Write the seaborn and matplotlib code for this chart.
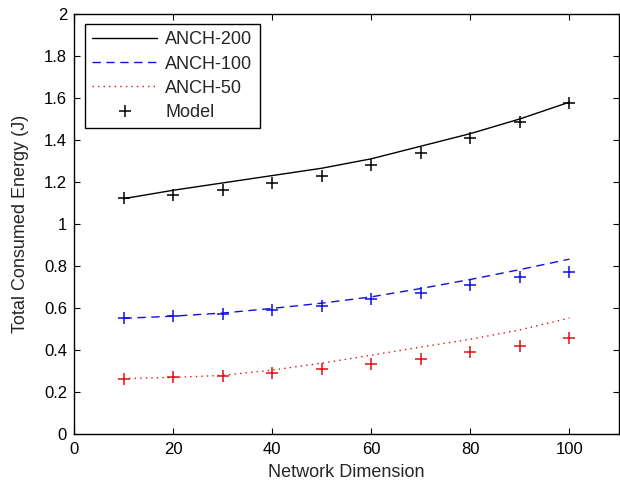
import matplotlib
matplotlib.use("Agg")
import matplotlib.pyplot as plt
import seaborn as sns
import pandas as pd
from matplotlib.lines import Line2D

# ---- data ----
dimension = [10, 20, 30, 40, 50, 60, 70, 80, 90, 100]
anch_200 = [1.12, 1.16, 1.195, 1.23, 1.265, 1.31, 1.37, 1.43, 1.50, 1.58]
anch_100 = [0.55, 0.56, 0.575, 0.597, 0.622, 0.652, 0.692, 0.735, 0.782, 0.832]
anch_50 = [0.263, 0.268, 0.278, 0.303, 0.336, 0.374, 0.413, 0.45, 0.495, 0.551]
model_200 = [1.122, 1.138, 1.162, 1.194, 1.23, 1.281, 1.34, 1.408, 1.487, 1.575]
model_100 = [0.551, 0.559, 0.571, 0.59, 0.608, 0.64, 0.672, 0.71, 0.748, 0.772]
model_50 = [0.263, 0.268, 0.277, 0.29, 0.31, 0.33, 0.355, 0.387, 0.419, 0.456]

series_names = ["ANCH-200", "ANCH-100", "ANCH-50"]
x_ticks = [0, 20, 40, 60, 80, 100]
y_ticks = [0, 0.2, 0.4, 0.6, 0.8, 1, 1.2, 1.4, 1.6, 1.8, 2]
y_tick_labels = ["0", "0.2", "0.4", "0.6", "0.8", "1", "1.2", "1.4", "1.6", "1.8", "2"]

sns.set_style("ticks")
plt.rcParams["font.family"] = ["Liberation Sans", "DejaVu Sans"]

fig = plt.figure(figsize=(6.2, 4.83), dpi=100)
ax = fig.add_axes([74 / 620, (483 - 433.7) / 483, (619 - 74) / 620, (433.7 - 14) / 483])

colors = ["#000000", "#1010e0", "#e01010"]
styles = ["-", (0, (6, 4)), (0, (1, 3))]
anch = [anch_200, anch_100, anch_50]
models = [model_200, model_100, model_50]

for name, vals, c, ls in zip(series_names, anch, colors, styles):
    df = pd.DataFrame({"x": dimension, "y": vals})
    sns.lineplot(data=df, x="x", y="y", ax=ax, color=c, linestyle=ls, linewidth=1.0)

for vals, c in zip(models, colors):
    df = pd.DataFrame({"x": dimension, "y": vals})
    sns.scatterplot(data=df, x="x", y="y", ax=ax, color=c, marker="+", s=70, linewidth=1.1)

ax.set_xlim(0, 110)
ax.set_ylim(0, 2)
ax.set_xticks(x_ticks)
ax.set_xticklabels([str(t) for t in x_ticks])
ax.set_yticks(y_ticks)
ax.set_yticklabels(y_tick_labels)
ax.tick_params(direction="in", length=4, width=0.8, top=True, right=True,
               labelsize=12, colors="#000000")
ax.tick_params(axis="x", pad=6)
ax.tick_params(axis="y", pad=5)
for sp in ax.spines.values():
    sp.set_visible(True)
    sp.set_linewidth(1.0)
    sp.set_color("#000000")

ax.set_xlabel("Network Dimension", fontsize=13, labelpad=5)
ax.set_ylabel("Total Consumed Energy (J)", fontsize=13, labelpad=11)

handles = [
    Line2D([], [], color=colors[0], linestyle=styles[0], linewidth=1.0),
    Line2D([], [], color=colors[1], linestyle=styles[1], linewidth=1.0),
    Line2D([], [], color=colors[2], linestyle=styles[2], linewidth=1.0),
    Line2D([], [], color="#000000", linestyle="none", marker="+", markersize=9, markeredgewidth=1.1),
]
labels = series_names + ["Model"]
leg = ax.legend(handles, labels, loc="upper left", bbox_to_anchor=(0.02, 0.976),
                fontsize=13, frameon=True, fancybox=False, framealpha=1,
                edgecolor="#000000", handlelength=3.6, handletextpad=0.45,
                labelspacing=0.4, borderpad=0.4, borderaxespad=0)
leg.get_frame().set_linewidth(1.0)

fig.savefig("out.png", dpi=100)
